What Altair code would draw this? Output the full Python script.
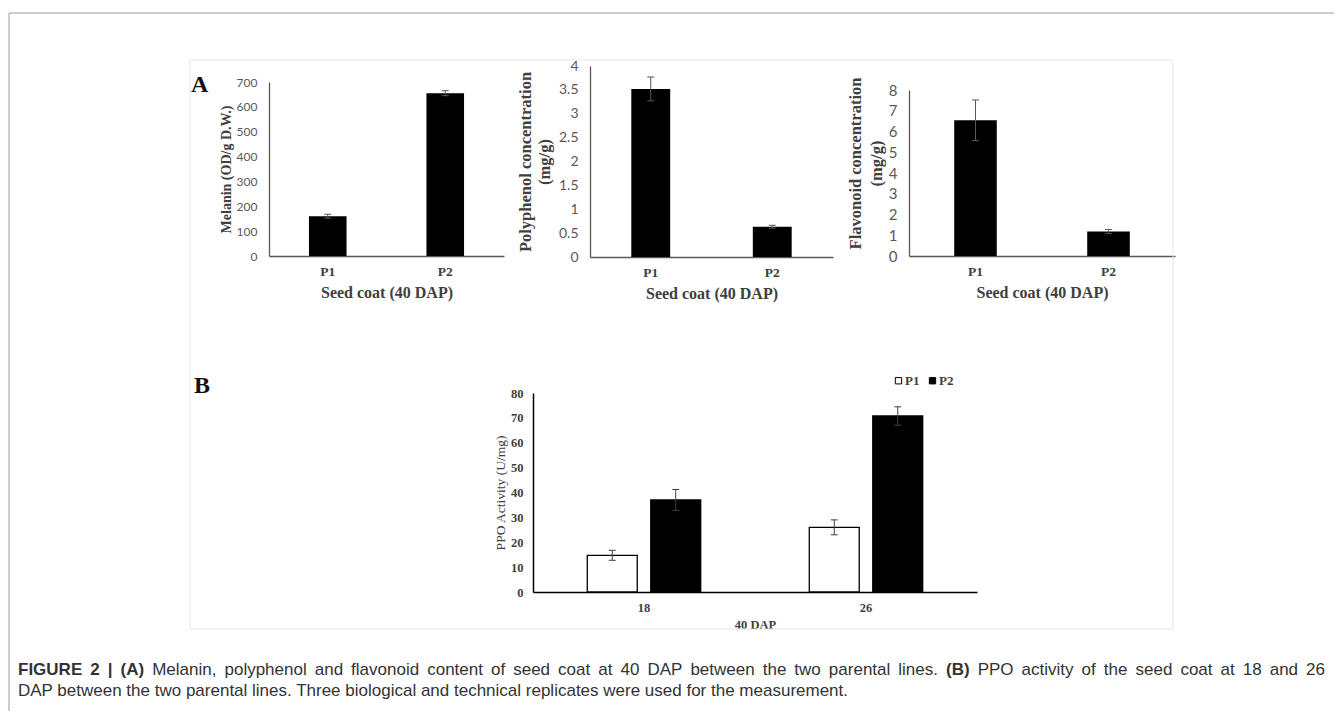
import altair as alt
import pandas as pd

# ---------------- data ----------------
lines = ["P1", "P2"]
melanin = [160, 655]
melanin_err = [8, 10]
polyphenol = [3.52, 0.635]
polyphenol_err = [0.25, 0.03]
flavonoid = [6.54, 1.18]
flavonoid_err = [0.98, 0.10]
melanin_ticks = [0, 100, 200, 300, 400, 500, 600, 700]
polyphenol_ticks = [0, 0.5, 1, 1.5, 2, 2.5, 3, 3.5, 4]
flavonoid_ticks = [0, 1, 2, 3, 4, 5, 6, 7, 8]

dap = ["18", "26"]
ppo_p1 = [14.75, 26.0]
ppo_p1_err = [2.0, 3.0]
ppo_p2 = [37.0, 70.75]
ppo_p2_err = [4.2, 3.7]
ppo_ticks = [0, 10, 20, 30, 40, 50, 60, 70, 80]

caption_line1 = [("FIGURE", True), ("2", True), ("|", True), ("(A)", True),
                 ("Melanin,", False), ("polyphenol", False), ("and", False), ("flavonoid", False),
                 ("content", False), ("of", False), ("seed", False), ("coat", False), ("at", False),
                 ("40", False), ("DAP", False), ("between", False), ("the", False), ("two", False),
                 ("parental", False), ("lines.", False), ("(B)", True), ("PPO", False),
                 ("activity", False), ("of", False), ("the", False), ("seed", False), ("coat", False),
                 ("at", False), ("18", False), ("and", False), ("26", False)]
caption_line2 = "DAP between the two parental lines. Three biological and technical replicates were used for the measurement."

SERIF = "Liberation Serif"
TICKF = "Lato"
CAPF = "Liberation Sans"
CAPSIZE = 17
W, H = 1326, 703

# Arial / Liberation Sans advance widths (per 1000 em) for caption justification
_reg = {" ": 278, ",": 278, ".": 278, "(": 333, ")": 333, "|": 260,
        "A": 667, "B": 667, "D": 722, "F": 611, "G": 778, "I": 278, "M": 833, "O": 778,
        "P": 667, "R": 722, "T": 611, "U": 722, "E": 667,
        "a": 556, "b": 556, "c": 500, "d": 556, "e": 556, "f": 278, "g": 556, "h": 556,
        "i": 222, "j": 222, "k": 500, "l": 222, "m": 833, "n": 556, "o": 556, "p": 556,
        "q": 556, "r": 333, "s": 500, "t": 278, "u": 556, "v": 500, "w": 722, "x": 500,
        "y": 500, "z": 500}
for _d in "0123456789":
    _reg[_d] = 556
_bold = dict(_reg)
_bold.update({"(": 333, ")": 333, "|": 280, "A": 722, "B": 722, "F": 611, "G": 778,
              "I": 278, "R": 722, "U": 722, "E": 667})


def word_width(w, bold):
    tab = _bold if bold else _reg
    return sum(tab.get(c, 556) for c in w) / 1000.0 * CAPSIZE


def panel_a(values, errs, title, ticks, fmt, domain, x0, x1, ybot, ytop,
            label_size, title_size, title_lh, title_pad, title_y=None):
    df = pd.DataFrame({
        "line": lines,
        "v": values,
        "lo": [v - e for v, e in zip(values, errs)],
        "hi": [v + e for v, e in zip(values, errs)],
    })
    akw = dict(title=title, orient="left", offset=-x0, values=ticks, format=fmt, grid=False,
               ticks=False, tickSize=0,
               labelFont=TICKF, labelFontSize=label_size, labelColor="#595959", labelPadding=12,
               domainColor="#595959", domainWidth=1.3,
               titleFont=SERIF, titleFontWeight="bold", titleFontSize=title_size,
               titleColor="#404040", titlePadding=title_pad, titleLineHeight=title_lh)
    if title_y is not None:
        akw["titleY"] = title_y
    yax = alt.Axis(**akw)
    ysc = alt.Scale(domain=domain, range=[ybot, ytop], nice=False, zero=True)
    xax = alt.Axis(title="Seed coat (40 DAP)", orient="bottom", offset=ybot - H, labelAngle=0,
                   ticks=False, tickSize=0,
                   labelFont=SERIF, labelFontWeight="bold", labelFontSize=13.5,
                   labelColor="#404040", labelPadding=8,
                   domainColor="#595959", domainWidth=1.3,
                   titleFont=SERIF, titleFontWeight="bold", titleFontSize=16,
                   titleColor="#404040", titlePadding=7)
    xsc = alt.Scale(domain=lines, range=[x0, x1], paddingInner=0.68, paddingOuter=0.34)
    x = alt.X("line:N", scale=xsc, axis=xax)
    base = alt.Chart(df)
    bars = base.mark_bar(color="black").encode(x=x, y=alt.Y("v:Q", scale=ysc, axis=yax))
    rule = base.mark_rule(color="#595959", strokeWidth=1).encode(
        x=x, y=alt.Y("lo:Q", scale=ysc, axis=yax), y2="hi:Q")
    cap_hi = base.mark_tick(color="#595959", thickness=1, size=7, opacity=1).encode(
        x=x, y=alt.Y("hi:Q", scale=ysc, axis=yax))
    cap_lo = base.mark_tick(color="#595959", thickness=1, size=7, opacity=1).encode(
        x=x, y=alt.Y("lo:Q", scale=ysc, axis=yax))
    return alt.layer(bars, rule, cap_hi, cap_lo)


a1 = panel_a(melanin, melanin_err, "Melanin (OD/g D.W.)", melanin_ticks, "d",
             [0, 700], 261, 496, 248, 74, 12, 14, 16, 3)
a2 = panel_a(polyphenol, polyphenol_err, ["Polyphenol concentration", "(mg/g)"], polyphenol_ticks, "~g",
             [0, 4], 582, 825, 249, 58, 14, 16.5, 19, 6)
a3 = panel_a(flavonoid, flavonoid_err, ["Flavonoid concentration", "(mg/g)"], flavonoid_ticks, "d",
             [0, 8], 901, 1167, 248, 82, 15, 16.5, 21, 4, title_y=155)

# ---------------- panel B ----------------
dfB = pd.DataFrame({
    "dap": dap + dap,
    "line": ["P1", "P1", "P2", "P2"],
    "v": ppo_p1 + ppo_p2,
    "err": ppo_p1_err + ppo_p2_err,
})
dfB["lo"] = dfB["v"] - dfB["err"]
dfB["hi"] = dfB["v"] + dfB["err"]
bx0, bx1, bybot, bytop = 525, 969, 584, 385

xB = alt.X("dap:N", scale=alt.Scale(domain=dap, range=[bx0, bx1], paddingInner=0.489, paddingOuter=0.2445),
           axis=alt.Axis(title="40 DAP", orient="bottom", offset=bybot - H, labelAngle=0,
                         ticks=False, tickSize=0,
                         labelFont=SERIF, labelFontWeight="bold", labelFontSize=12.5,
                         labelColor="#404040", labelPadding=9,
                         domainColor="#000000", domainWidth=1.5,
                         titleFont=SERIF, titleFontWeight="bold", titleFontSize=12.5,
                         titleColor="#404040", titlePadding=5))
xoB = alt.XOffset("line:N", scale=alt.Scale(domain=lines, paddingInner=0.213, paddingOuter=0))
yaxB = alt.Axis(title="PPO Activity (U/mg)", orient="left", offset=-bx0, values=ppo_ticks, grid=False,
                ticks=False, tickSize=0,
                labelFont=SERIF, labelFontWeight="bold", labelFontSize=12.5, labelColor="#404040",
                labelPadding=10, domainColor="#000000", domainWidth=1.5,
                titleFont=SERIF, titleFontWeight="normal", titleFontSize=13.5,
                titleColor="#404040", titlePadding=3)
yscB = alt.Scale(domain=[0, 80], range=[bybot, bytop], nice=False)
baseB = alt.Chart(dfB)
barsB = baseB.mark_bar(stroke="black", strokeWidth=1.3).encode(
    x=xB, xOffset=xoB, y=alt.Y("v:Q", scale=yscB, axis=yaxB),
    color=alt.Color("line:N", scale=alt.Scale(domain=lines, range=["#ffffff", "#000000"]),
                    legend=alt.Legend(title=None, orient="none", legendX=884, legendY=366,
                                      direction="horizontal", symbolType="square", symbolSize=40,
                                      symbolStrokeColor="black", symbolStrokeWidth=1,
                                      labelFont=SERIF, labelFontWeight="bold", labelFontSize=13,
                                      labelColor="#404040", labelOffset=0, columnPadding=6)))
ruleB = baseB.mark_rule(color="#404040", strokeWidth=1).encode(
    x=xB, xOffset=xoB, y=alt.Y("lo:Q", scale=yscB, axis=yaxB), y2="hi:Q")
capHiB = baseB.mark_tick(color="#404040", thickness=1, size=7, opacity=1).encode(
    x=xB, xOffset=xoB, y=alt.Y("hi:Q", scale=yscB, axis=yaxB))
capLoB = baseB.mark_tick(color="#404040", thickness=1, size=7, opacity=1).encode(
    x=xB, xOffset=xoB, y=alt.Y("lo:Q", scale=yscB, axis=yaxB))
b = alt.layer(barsB, ruleB, capHiB, capLoB)

# ---------- decorations: page border, figure frame, panel letters, caption ----------
deco = alt.Chart(pd.DataFrame({"d": [0]}))
outer_top = deco.mark_rule(color="#bdbdbd", strokeWidth=1.5).encode(
    x=alt.value(1), x2=alt.value(W), y=alt.value(5))
outer_left = deco.mark_rule(color="#bdbdbd", strokeWidth=1.5).encode(
    x=alt.value(1), y=alt.value(5), y2=alt.value(H))
frame = deco.mark_rect(fillOpacity=0, stroke="#e6e6e6", strokeWidth=1).encode(
    x=alt.value(182), x2=alt.value(1165), y=alt.value(52), y2=alt.value(621))
lab_a = deco.mark_text(text="A", font=SERIF, fontWeight="bold", fontSize=24, align="left",
                       baseline="alphabetic", color="#111111").encode(x=alt.value(183), y=alt.value(84))
lab_b = deco.mark_text(text="B", font=SERIF, fontWeight="bold", fontSize=24, align="left",
                       baseline="alphabetic", color="#111111").encode(x=alt.value(186), y=alt.value(385))


def cap(txt, x, y, bold=False):
    return deco.mark_text(text=txt, font=CAPF, fontWeight="bold" if bold else "normal",
                          fontSize=CAPSIZE, align="left", baseline="alphabetic",
                          color="#333333").encode(x=alt.value(x), y=alt.value(y))


# justified first caption line between page x 18 and 1325 (canvas 10 .. 1317)
cap_left, cap_right = 10, 1317
widths = [word_width(w, bl) for w, bl in caption_line1]
gap = (cap_right - cap_left - sum(widths)) / (len(widths) - 1)
caption_layers = []
xpos = cap_left
for (w, bl), ww in zip(caption_line1, widths):
    caption_layers.append(cap(w, round(xpos, 2), 667, bl))
    xpos += ww + gap
caption_layers.append(cap(caption_line2, cap_left, 688))

chart = alt.layer(
    outer_top, outer_left, frame, lab_a, lab_b, *caption_layers, a1, a2, a3, b
).resolve_scale(
    x="independent", y="independent"
).resolve_axis(
    x="independent", y="independent"
).properties(
    width=W, height=H, padding=0,
    autosize=alt.AutoSizeParams(type="none"),
    background="white",
).configure_view(stroke=None)

chart.save("out.html", embed_options={"renderer": "svg", "actions": False})
